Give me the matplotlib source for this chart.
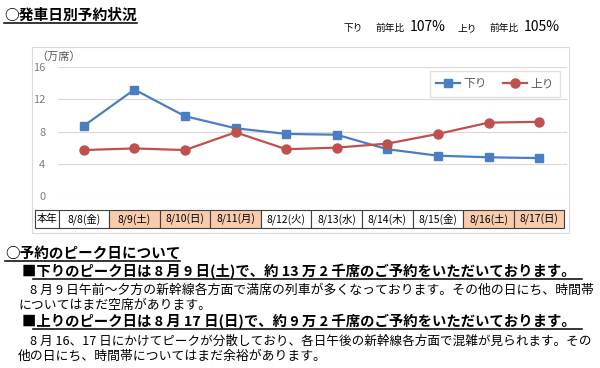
import matplotlib
matplotlib.use('Agg')
import matplotlib.pyplot as plt
from matplotlib.patches import Rectangle
from matplotlib.lines import Line2D
from matplotlib.transforms import blended_transform_factory

plt.rcParams['font.family'] = ['Noto Sans CJK JP', 'DejaVu Sans']

# data (万席)
days = ['8/8(金)', '8/9(土)', '8/10(日)', '8/11(月)', '8/12(火)',
        '8/13(水)', '8/14(木)', '8/15(金)', '8/16(土)', '8/17(日)']
holiday = [False, True, True, True, False, False, False, False, True, True]
down = [8.7, 13.2, 9.9, 8.4, 7.7, 7.6, 5.8, 5.0, 4.8, 4.7]
up = [5.7, 5.9, 5.7, 7.9, 5.8, 6.0, 6.5, 7.7, 9.1, 9.2]
yticks = [0, 4, 8, 12, 16]

W, H = 600, 368
fig = plt.figure(figsize=(6, 3.68), dpi=100)
renderer = fig.canvas.get_renderer()


def fx(x):
    return x / W


def fy(y):
    return 1 - y / H


def put(x, y, s, width=None, size=9, weight='normal', color='black', ha='left'):
    t = fig.text(fx(x), fy(y), s, fontsize=size, fontweight=weight,
                 color=color, ha=ha, va='center')
    if width:
        w = t.get_window_extent(renderer).width
        t.set_fontsize(size * width / w)
    return t


def underline(x0, x1, y, lw=1.1):
    fig.add_artist(Line2D([fx(x0), fx(x1)], [fy(y), fy(y)], color='black', lw=lw))


# chart panel frame
fig.add_artist(Rectangle((fx(32), fy(233)), (569 - 32) / W, (233 - 47) / H,
                         transform=fig.transFigure, fill=False,
                         edgecolor='#D9D9D9', lw=0.8))

ax = fig.add_axes([fx(58), fy(196), (567 - 58) / W, (196 - 67) / H])
x = list(range(len(days)))
ax.plot(x, down, color='#4A7EC2', lw=1.6, marker='s', ms=6, label='下り')
ax.plot(x, up, color='#C0504D', lw=1.6, marker='o', ms=6.5, label='上り')
ax.set_xlim(-0.51, 9.55)
ax.set_ylim(0, 16)
ax.set_yticks(yticks)
ax.set_xticks([])
ax.grid(axis='y', color='#D9D9D9', lw=0.8)
ax.set_axisbelow(True)
for s in ax.spines.values():
    s.set_visible(False)
ax.tick_params(axis='y', length=0, pad=9, labelsize=8, labelcolor='#7F7F7F')
ax.patch.set_alpha(0)

leg = ax.legend(loc='center', bbox_to_anchor=(fx(495), fy(84)),
                bbox_transform=fig.transFigure, ncol=2, frameon=True,
                fancybox=False, edgecolor='#D9D9D9', fontsize=8.5,
                handlelength=2.0, columnspacing=1.4, handletextpad=0.3,
                borderpad=0.55)
for t in leg.get_texts():
    t.set_color('#595959')

put(36, 57, '（万席）', size=8, color='#595959')

# date table under the chart
tr = blended_transform_factory(ax.transData, fig.transFigure)
top, bot = fy(210), fy(228)
cells = [(-0.97, -0.5, '本年', False)] + [(i - 0.5, i + 0.5, d, h) for i, (d, h) in enumerate(zip(days, holiday))]
for x0, x1, label, h in cells:
    ax.add_patch(Rectangle((x0, bot), x1 - x0, top - bot, transform=tr, clip_on=False,
                           facecolor='#F8CBAD' if h else 'white',
                           edgecolor='#404040', lw=0.8))
    ax.text((x0 + x1) / 2, (top + bot) / 2, label, transform=tr, ha='center',
            va='center', fontsize=7.5, color='black', clip_on=False)

# headings and notes
put(4, 15, '○発車日別予約状況', width=133, size=10, weight='bold')
underline(4, 137, 23)

put(344, 28, '下り', size=7)
put(376, 28, '前年比', size=7)
put(410, 27, '107%', width=36, size=9)
put(458, 28, '上り', size=7)
put(490, 28, '前年比', size=7)
put(524, 27, '105%', width=36, size=9)

put(5, 253, '○予約のピーク日について', width=175, size=10, weight='bold')
underline(5, 180, 261)

put(22, 272, '■下りのピーク日は 8 月 9 日(土)で、約 13 万 2 千席のご予約をいただいております。',
    width=553, size=10, weight='bold')
underline(33, 582, 279)
b1 = put(30, 290, '8 月 9 日午前～夕方の新幹線各方面で満席の列車が多くなっております。その他の日にち、時間帯',
         width=562, size=9)
put(18, 305, 'についてはまだ空席があります。', size=b1.get_fontsize())

put(22, 322, '■上りのピーク日は 8 月 17 日(日)で、約 9 万 2 千席のご予約をいただいております。',
    width=553, size=10, weight='bold')
underline(33, 582, 329)
put(30, 341, '8 月 16、17 日にかけてピークが分散しており、各日午後の新幹線各方面で混雑が見られます。その',
    width=560, size=9)
put(18, 356, '他の日にち、時間帯についてはまだ余裕があります。', size=b1.get_fontsize())

fig.savefig('out.png', dpi=100)
